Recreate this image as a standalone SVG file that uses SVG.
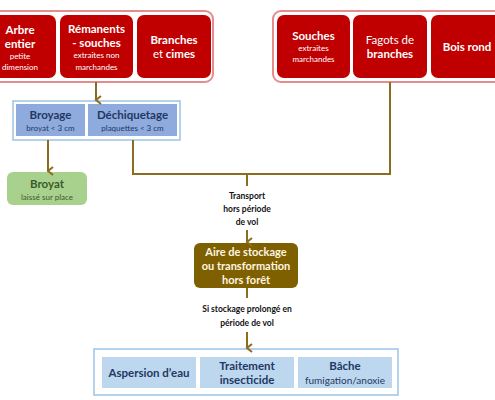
<svg xmlns="http://www.w3.org/2000/svg" width="495" height="400" viewBox="0 0 495 400">
<defs>
<style>
text{font-family:Lato,"Open Sans","Liberation Sans",sans-serif;text-anchor:middle}
.outerR{fill:#fff;stroke:#E58C8C;stroke-width:2}
.red{fill:#C00000}
.w{fill:#fff;font-size:11.5px;font-weight:bold}
.ws{fill:#fff;font-size:8px}
.wr{fill:#fff;font-size:11.5px;font-weight:normal}
.outerB{fill:#fff;stroke:#9DC3E6;stroke-width:1.5}
.blue{fill:#8FAADC}
.bt{fill:#1F3864;font-size:11.5px;font-weight:bold}
.bs{fill:#1F3864;font-size:8px}
.lb{fill:#BDD7EE}
.lt{fill:#1F3864;font-size:11.5px;font-weight:bold}
.lts{fill:#1F3864;font-size:10px}
.conn{fill:none;stroke:#8C6D1F;stroke-width:2}
.lbl{fill:#111;font-size:8.5px;font-weight:bold}
</style>
<marker id="ah" markerWidth="10" markerHeight="10" refX="5" refY="8" orient="auto" markerUnits="userSpaceOnUse" viewBox="0 0 10 10">
<path d="M1,3 L5,8 L9,3" fill="none" stroke="#8C6D1F" stroke-width="2"/>
</marker>
</defs>
<rect width="495" height="400" fill="#fff"/>

<g id="groupLeft">
<rect class="outerR" x="-20" y="11" width="233" height="71" rx="8"/>
<g id="arbre">
<rect class="red" x="-16" y="15" width="72" height="63" rx="7"/>
<text class="w" x="20" y="34">Arbre</text>
<text class="w" x="20" y="48">entier</text>
<text class="ws" x="20" y="59">petite</text>
<text class="ws" x="20" y="70">dimension</text>
</g>
<g id="remanents">
<rect class="red" x="60" y="15" width="73" height="63" rx="7"/>
<text class="w" x="96.5" y="33">Rémanents</text>
<text class="w" x="96.5" y="47">- souches</text>
<text class="ws" x="96.5" y="58">extraites non</text>
<text class="ws" x="96.5" y="70">marchandes</text>
</g>
<g id="branches">
<rect class="red" x="137" y="15" width="74" height="63" rx="7"/>
<text class="w" x="174" y="44">Branches</text>
<text class="w" x="174" y="58"><tspan font-weight="normal">et</tspan> cimes</text>
</g>
</g>

<g id="groupRight">
<rect class="outerR" x="273" y="11" width="234" height="71" rx="8"/>
<g id="souches">
<rect class="red" x="277" y="15" width="73" height="63" rx="7"/>
<text class="w" x="313.5" y="40">Souches</text>
<text class="ws" x="313.5" y="51">extraites</text>
<text class="ws" x="313.5" y="62">marchandes</text>
</g>
<g id="fagots">
<rect class="red" x="353" y="15" width="74" height="63" rx="7"/>
<text class="wr" x="390" y="44">Fagots de</text>
<text class="w" x="390" y="58">branches</text>
</g>
<g id="boisrond">
<rect class="red" x="431" y="15" width="73" height="63" rx="7"/>
<text class="w" x="467" y="51">Bois rond</text>
</g>
</g>

<g id="groupBroyage">
<rect class="outerB" x="13" y="101" width="167" height="39"/>
<g id="broyage">
<rect class="blue" x="16" y="104" width="69" height="32"/>
<text class="bt" x="50.5" y="119">Broyage</text>
<text class="bs" x="50.5" y="131">broyat &lt; 3 cm</text>
</g>
<g id="dechiquetage">
<rect class="blue" x="88" y="104" width="89" height="32"/>
<text class="bt" x="132.5" y="119">Déchiquetage</text>
<text class="bs" x="132.5" y="131">plaquettes &lt; 3 cm</text>
</g>
</g>

<g id="broyat">
<rect x="7" y="172" width="80" height="33" rx="6" fill="#A9D18E"/>
<text x="47" y="188" fill="#3B5B28" font-size="11.5" font-weight="bold">Broyat</text>
<text x="47" y="200" fill="#3B5B28" font-size="8">laissé sur place</text>
</g>

<g id="stockage">
<rect x="194" y="243" width="104" height="45" rx="6" fill="#7F6000"/>
<text x="246" y="256" fill="#FFF6E0" font-size="11" font-weight="bold">Aire de stockage</text>
<text x="246" y="270" fill="#FFF6E0" font-size="11" font-weight="bold">ou transformation</text>
<text x="246" y="284" fill="#FFF6E0" font-size="11" font-weight="bold">hors forêt</text>
</g>

<g id="groupTraitements">
<rect class="outerB" x="94" y="349" width="304" height="46"/>
<g id="aspersion">
<rect class="lb" x="102" y="357" width="94" height="31"/>
<text class="lt" x="149" y="377">Aspersion d’eau</text>
</g>
<g id="traitement">
<rect class="lb" x="200" y="357" width="94" height="31"/>
<text class="lt" x="247" y="370">Traitement</text>
<text class="lt" x="247" y="384">insecticide</text>
</g>
<g id="bache">
<rect class="lb" x="298" y="357" width="94" height="31"/>
<text class="lt" x="345" y="370">Bâche</text>
<text class="lts" x="345" y="384">fumigation/anoxie</text>
</g>
</g>

<g id="connectors">
<path class="conn" d="M96,82 V100" marker-end="url(#ah)"/>
<path class="conn" d="M48,140 V171" marker-end="url(#ah)"/>
<path class="conn" d="M133,140 V174 H390 V82"/>
<path class="conn" d="M247,174 V186"/>
<path class="conn" d="M247,230 V242" marker-end="url(#ah)"/>
<path class="conn" d="M247,288 V298"/>
<path class="conn" d="M247,332 V348" marker-end="url(#ah)"/>
<text class="lbl" x="247" y="199">Transport</text>
<text class="lbl" x="247" y="212">hors période</text>
<text class="lbl" x="247" y="225">de vol</text>
<text class="lbl" x="247" y="312">Si stockage prolongé en</text>
<text class="lbl" x="247" y="326">période de vol</text>
</g>
</svg>
